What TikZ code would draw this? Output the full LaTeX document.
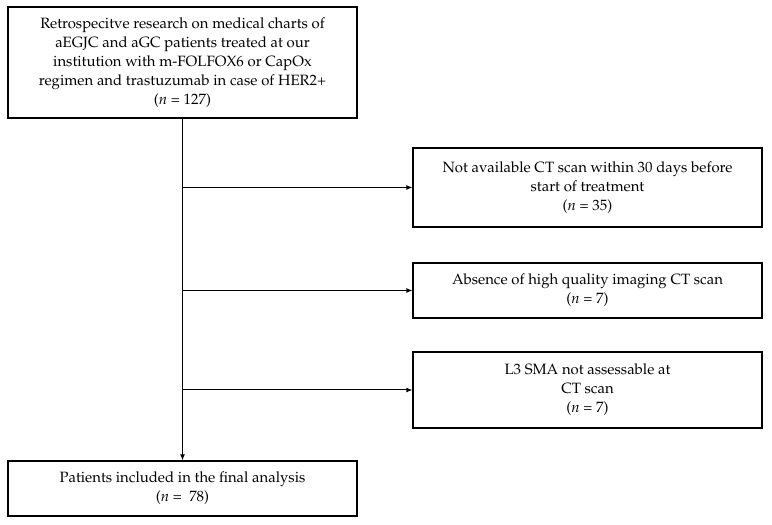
\documentclass[tikz,border=0pt]{standalone}
\usepackage[T1]{fontenc}
\usepackage{mathpazo}
\usetikzlibrary{arrows.meta}

\tikzset{
  flowbox/.style={draw, line width=1.2pt, minimum width=349pt, inner sep=0pt,
    align=center, font=\fontfamily{ppl}\fontsize{14.9}{19}\selectfont},
  flowarrow/.style={line width=1pt, -{Latex[length=6pt,width=5pt]}}
}

\begin{document}
\begin{tikzpicture}[x=1pt,y=1pt]
 \useasboundingbox (0,0) rectangle (772,525);
 % left column
 \node[flowbox, minimum height=111pt] (charts) at (182.5,462.5)
   {Retrospecitve research on medical charts of\\ aEGJC and aGC patients treated at our\\ institution with m-FOLFOX6 or CapOx\\ regimen and trastuzumab in case of HER2+\\ (\textit{n} = 127)};
 \node[flowbox, minimum height=55pt] (final) at (182.5,36.5)
   {Patients included in the final analysis\\ (\textit{n} =~ 78)};
 % exclusions
 \node[flowbox, minimum height=79pt] (noct) at (587.5,337.5)
   {Not available CT scan within 30 days before\\ start of treatment\\ (\textit{n} = 35)};
 \node[flowbox, minimum height=55pt] (quality) at (587.5,234.5)
   {Absence of high quality imaging CT scan\\ (\textit{n} = 7)};
 \node[flowbox, minimum height=76pt] (sma) at (587.5,135)
   {L3 SMA not assessable at\\ CT scan\\ (\textit{n} = 7)};
 % connectors
 \draw[flowarrow] (charts.south) -- (final.north);
 \draw[flowarrow] (charts.south |- noct.west) -- (noct.west);
 \draw[flowarrow] (charts.south |- quality.west) -- (quality.west);
 \draw[flowarrow] (charts.south |- sma.west) -- (sma.west);
\end{tikzpicture}
\end{document}
